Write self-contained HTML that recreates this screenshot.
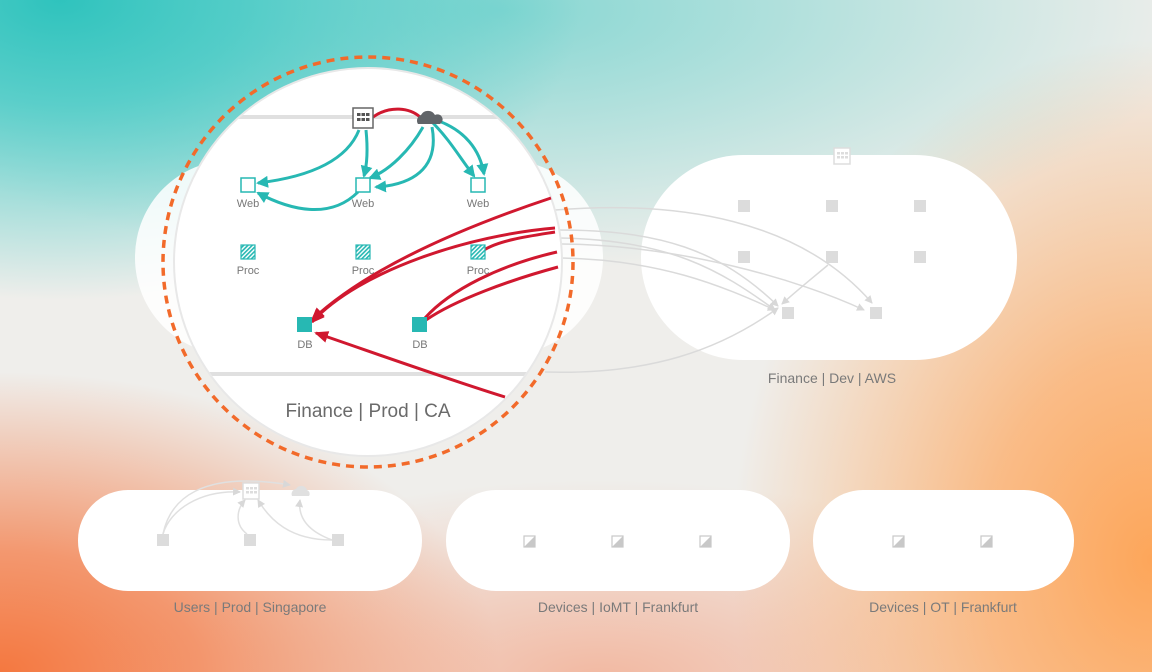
<!DOCTYPE html>
<html><head><meta charset="utf-8"><style>
html,body{margin:0;padding:0}
body{width:1152px;height:672px;overflow:hidden;position:relative;font-family:"Liberation Sans",sans-serif;
background:
radial-gradient(ellipse 520px 300px at 60px 0px,#2fc3bd 0%,rgba(60,200,195,.8) 35%,rgba(120,215,210,0) 100%),
radial-gradient(ellipse 700px 260px at 500px 10px,rgba(90,205,200,.7) 0%,rgba(150,220,215,0) 100%),
radial-gradient(ellipse 500px 300px at 0px 672px,#f47840 0%,rgba(244,130,80,.8) 40%,rgba(244,150,110,0) 100%),
radial-gradient(ellipse 420px 520px at 1152px 560px,#fda65a 0%,rgba(252,175,110,.8) 40%,rgba(250,200,160,0) 100%),
radial-gradient(ellipse 500px 200px at 600px 680px,rgba(245,140,100,.55) 0%,rgba(245,170,140,0) 100%),
#efeeeb;}
svg{position:absolute;left:0;top:0}
</style></head><body>
<svg width="1152" height="672" viewBox="0 0 1152 672" font-family="Liberation Sans, sans-serif">
<defs>
<marker id="ag" markerWidth="8" markerHeight="8" refX="7" refY="4" orient="auto" markerUnits="userSpaceOnUse"><path d="M0,0L8,4L0,8z" fill="#d8d8d8"/></marker>
<marker id="at" markerWidth="12" markerHeight="12" refX="10" refY="6" orient="auto" markerUnits="userSpaceOnUse"><path d="M0,0L12,6L0,12z" fill="#27b8b3"/></marker>
<marker id="ar" markerWidth="14" markerHeight="12" refX="12" refY="6" orient="auto" markerUnits="userSpaceOnUse"><path d="M0,0L14,6L0,12z" fill="#d0182f"/></marker>
<pattern id="hatch" width="3" height="3" patternUnits="userSpaceOnUse" patternTransform="rotate(45)"><rect width="3" height="3" fill="#fff"/><rect width="1.6" height="3" fill="#27b8b3"/></pattern>
<clipPath id="cc"><circle cx="368" cy="262" r="193"/></clipPath>
</defs>
<!-- pills -->
<rect x="135" y="160" width="468" height="195" rx="97" fill="#fff" opacity=".85"/>
<rect x="641" y="155" width="376" height="205" rx="102" fill="#fff"/>
<rect x="78" y="490" width="344" height="101" rx="50" fill="#fff"/>
<rect x="446" y="490" width="344" height="101" rx="50" fill="#fff"/>
<rect x="813" y="490" width="261" height="101" rx="50" fill="#fff"/>
<g font-size="14" fill="#7a7a7a" text-anchor="middle">
<text x="832" y="383">Finance | Dev | AWS</text>
<text x="250" y="612">Users | Prod | Singapore</text>
<text x="618" y="612">Devices | IoMT | Frankfurt</text>
<text x="943" y="612">Devices | OT | Frankfurt</text>
</g>
<!-- right pill nodes -->
<g fill="#dcdcdc">
<rect x="738" y="200" width="12" height="12"/><rect x="826" y="200" width="12" height="12"/><rect x="914" y="200" width="12" height="12"/>
<rect x="738" y="251" width="12" height="12"/><rect x="826" y="251" width="12" height="12"/><rect x="914" y="251" width="12" height="12"/>
<rect x="782" y="307" width="12" height="12"/><rect x="870" y="307" width="12" height="12"/>
</g>
<rect x="834" y="148" width="16" height="16" fill="#fff" stroke="#ddd" stroke-width="1.5"/>
<g fill="#ddd"><rect x="837" y="152" width="3" height="2.5"/><rect x="841" y="152" width="3" height="2.5"/><rect x="845" y="152" width="3" height="2.5"/><rect x="837" y="156" width="3" height="2.5"/><rect x="841" y="156" width="3" height="2.5"/><rect x="845" y="156" width="3" height="2.5"/></g>
<!-- gray curves -->
<g fill="none" stroke="#dadada" stroke-width="1.5" marker-end="url(#ag)">
<path d="M555,210 C680,200 800,220 872,303"/>
<path d="M558,230 C660,230 720,250 778,306"/>
<path d="M560,238 C670,240 720,270 775,310"/>
<path d="M562,244 C680,245 800,280 864,310"/>
<path d="M562,258 C660,260 720,285 775,310"/>
<path d="M545,372 C650,375 720,350 778,308"/>
<path d="M828,265 C810,280 795,292 782,304"/>
</g>
<!-- bottom-left -->
<g fill="#dcdcdc"><rect x="157" y="534" width="12" height="12"/><rect x="244" y="534" width="12" height="12"/><rect x="332" y="534" width="12" height="12"/>
<rect x="308" y="534" width="0" height="0"/></g>
<g fill="none" stroke="#e0e0e0" stroke-width="1.5" marker-end="url(#ag)">
<path d="M163,534 C170,500 200,470 290,485"/>
<path d="M163,534 C170,510 200,490 240,492"/>
<path d="M247,534 C235,525 236,510 245,500"/>
<path d="M332,540 C290,540 270,520 258,500"/>
<path d="M332,540 C305,530 298,515 300,500"/>
</g>
<rect x="243" y="483" width="16" height="16" fill="#fff" stroke="#ddd" stroke-width="1.5"/>
<g fill="#ddd"><rect x="246" y="487" width="3" height="2.5"/><rect x="250" y="487" width="3" height="2.5"/><rect x="254" y="487" width="3" height="2.5"/><rect x="246" y="491" width="3" height="2.5"/><rect x="250" y="491" width="3" height="2.5"/><rect x="254" y="491" width="3" height="2.5"/></g>
<path d="M292,496 a5,5 0 0 1 4,-7 a6,6 0 0 1 11,1 a4,4 0 0 1 2,6z" fill="#e0e0e0"/>
<!-- bottom devices -->
<g fill="#fff" stroke="#c8c8c8" stroke-width="1.2">
<rect x="524" y="536" width="11" height="11"/><rect x="612" y="536" width="11" height="11"/><rect x="700" y="536" width="11" height="11"/>
<rect x="893" y="536" width="11" height="11"/><rect x="981" y="536" width="11" height="11"/>
</g>
<g fill="#c8c8c8"><path d="M535,536L535,547L524,547z"/><path d="M623,536L623,547L612,547z"/><path d="M711,536L711,547L700,547z"/><path d="M904,536L904,547L893,547z"/><path d="M992,536L992,547L981,547z"/></g>
<!-- main circle -->
<circle cx="368" cy="262" r="195" fill="#e8e8e8"/>
<circle cx="368" cy="262" r="193" fill="#fff"/>
<g clip-path="url(#cc)">
<rect x="150" y="115" width="440" height="4" fill="#e0e0e0"/>
<rect x="150" y="372" width="440" height="4" fill="#e0e0e0"/>
</g>
<circle cx="368" cy="262" r="205" fill="none" stroke="#f26a2a" stroke-width="3.5" stroke-dasharray="8,6"/>
<text x="368" y="417" font-size="19" fill="#6a6a6a" text-anchor="middle">Finance | Prod | CA</text>
<!-- teal arrows -->
<g fill="none" stroke="#27b8b3" stroke-width="3">
<path d="M359,130 C345,165 300,178 258,183" marker-end="url(#at)"/>
<path d="M366,130 C368,150 367,165 364,176" marker-end="url(#at)"/>
<path d="M423,127 C410,150 390,170 370,178" marker-end="url(#at)"/>
<path d="M432,127 C440,170 410,185 376,187" marker-end="url(#at)"/>
<path d="M358,192 C330,220 290,210 258,193" marker-end="url(#at)"/>
<path d="M432,122 C450,140 460,158 474,176" marker-end="url(#at)"/>
<path d="M436,120 C465,130 480,150 484,174" marker-end="url(#at)"/>
</g>
<!-- red -->
<g fill="none" stroke="#d0182f" stroke-width="3">
<path d="M373,117 C390,105 410,108 420,117"/>
<path d="M551,198 C440,235 360,275 312,320" marker-end="url(#ar)"/>
<path d="M555,228 C470,235 360,270 312,322" marker-end="url(#ar)"/>
<path d="M555,232 C530,236 500,240 484,250"/>
<path d="M557,252 C500,265 450,290 425,318"/>
<path d="M558,267 C510,280 455,300 426,320"/>
<path d="M505,397 C450,380 380,355 316,333" marker-end="url(#ar)"/>
</g>
<!-- nodes -->
<g fill="#fff" stroke="#27b8b3" stroke-width="1.5">
<rect x="241" y="178" width="14" height="14"/><rect x="356" y="178" width="14" height="14"/><rect x="471" y="178" width="14" height="14"/>
</g>
<g fill="url(#hatch)" stroke="#27b8b3" stroke-width="1.2">
<rect x="241" y="245" width="14" height="14"/><rect x="356" y="245" width="14" height="14"/><rect x="471" y="245" width="14" height="14"/>
</g>
<g fill="#27b8b3"><rect x="297" y="317" width="15" height="15"/><rect x="412" y="317" width="15" height="15"/></g>
<g font-size="11" fill="#777" text-anchor="middle">
<text x="248" y="207">Web</text><text x="363" y="207">Web</text><text x="478" y="207">Web</text>
<text x="248" y="274">Proc</text><text x="363" y="274">Proc</text><text x="478" y="274">Proc</text>
<text x="305" y="348">DB</text><text x="420" y="348">DB</text>
</g>
<rect x="353" y="108" width="20" height="20" fill="#fff" stroke="#666" stroke-width="1.5"/>
<g fill="#555"><rect x="357" y="113" width="3.5" height="3"/><rect x="361.5" y="113" width="3.5" height="3"/><rect x="366" y="113" width="3.5" height="3"/><rect x="357" y="118" width="3.5" height="3"/><rect x="361.5" y="118" width="3.5" height="3"/><rect x="366" y="118" width="3.5" height="3"/></g>
<path d="M418,124 a6,6 0 0 1 3,-9 a8,8 0 0 1 14,0 a5,5 0 0 1 5,9z" fill="#606468"/>
</svg>
</body></html>
